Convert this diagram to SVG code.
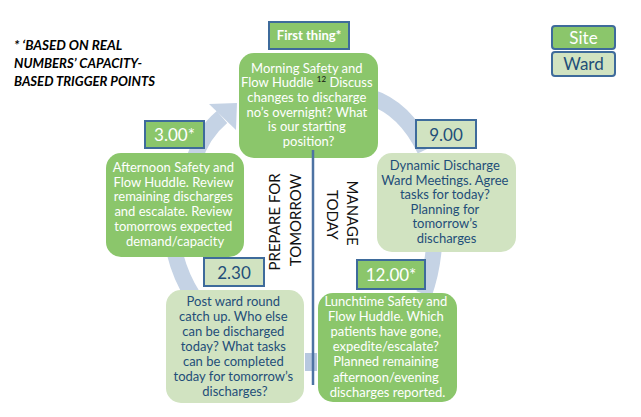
<svg xmlns="http://www.w3.org/2000/svg" width="641" height="417" viewBox="0 0 641 417">
<style>
.ring{fill:none;stroke:#c5d3e5;stroke-width:16}
.ringf{fill:#c5d3e5}
.g{fill:#8bc66b}
.lg{fill:#d1e3c1}
.tag{stroke:#3e6b9b;stroke-width:2}
.t{font-family:Lato,"Liberation Sans",sans-serif;font-size:13px;text-anchor:middle}
.w{fill:#ffffff}
.b{fill:#1f4e79}
.big{font-family:Lato,"Liberation Sans",sans-serif;font-size:17px;text-anchor:middle}
.vt{font-family:Lato,"Liberation Sans",sans-serif;font-size:15px;text-anchor:middle;fill:#111}
.note{font-family:Lato,"Liberation Sans",sans-serif;font-size:13px;font-weight:bold;font-style:italic;fill:#000}
</style>
<rect width="641" height="417" fill="#ffffff"/>
<g id="ring">
<path class="ring" d="M194,160 Q202,134 222,117"/>
<polygon class="ringf" points="209,104 237,103 236,130"/>
<path class="ring" d="M370,97 Q405,108 425,150"/>
<path class="ring" d="M434,246 Q432,272 424,294"/>
<rect x="305" y="353" width="12" height="18" fill="#b7c8df"/>
<path class="ring" d="M174,250 Q180,276 193,296"/>
</g>
<g id="note">
<text class="note">
<tspan x="14" y="50" textLength="108" lengthAdjust="spacingAndGlyphs">* ‘BASED ON REAL</tspan>
<tspan x="14" y="68" textLength="128" lengthAdjust="spacingAndGlyphs">NUMBERS’ CAPACITY-</tspan>
<tspan x="14" y="86" textLength="141" lengthAdjust="spacingAndGlyphs">BASED TRIGGER POINTS</tspan>
</text>
</g>
<g id="legend-site">
<rect class="g tag" x="552" y="26" width="63" height="23" rx="3"/>
<text class="big w" x="583.5" y="44">Site</text>
</g>
<g id="legend-ward">
<rect class="lg tag" x="552" y="52" width="63" height="24" rx="3"/>
<text class="big b" x="583.5" y="70">Ward</text>
</g>
<g id="first-thing">
<rect class="g tag" x="269" y="22" width="80" height="27"/>
<text class="t w" x="309" y="40" font-weight="bold">First thing*</text>
</g>
<g id="morning">
<rect class="g" x="239" y="53" width="139" height="105" rx="15"/>
<text class="t w">
<tspan x="308.5" y="72.5">Morning Safety and</tspan>
<tspan x="308.5" y="87.2">Flow Huddle <tspan font-size="8" fill="#111" dy="-5">12</tspan><tspan dy="5"> Discuss</tspan></tspan>
<tspan x="308.5" y="101.9">changes to discharge</tspan>
<tspan x="308.5" y="116.6">no’s overnight? What</tspan>
<tspan x="308.5" y="131.3">is our starting</tspan>
<tspan x="308.5" y="146">position?</tspan>
</text>
</g>
<g id="t900">
<rect class="lg tag" x="416" y="120" width="60" height="28"/>
<text class="big b" x="446" y="141">9.00</text>
</g>
<g id="dynamic">
<rect class="lg" x="377" y="153" width="139" height="99" rx="15"/>
<text class="t b">
<tspan x="446.5" y="170">Dynamic Discharge</tspan>
<tspan x="446.5" y="184.5">Ward Meetings. Agree</tspan>
<tspan x="446.5" y="199">tasks for today?</tspan>
<tspan x="446.5" y="213.5">Planning for</tspan>
<tspan x="446.5" y="228">tomorrow’s</tspan>
<tspan x="446.5" y="242.5">discharges</tspan>
</text>
</g>
<g id="t1200">
<rect class="g tag" x="357" y="260" width="68" height="29"/>
<text class="big w" x="391" y="281">12.00*</text>
</g>
<g id="lunchtime">
<rect class="g" x="318" y="293" width="139" height="109" rx="15"/>
<text class="t w">
<tspan x="387.5" y="306">Lunchtime Safety and</tspan>
<tspan x="387.5" y="321.1">Flow Huddle. Which</tspan>
<tspan x="387.5" y="336.2">patients have gone,</tspan>
<tspan x="387.5" y="351.3">expedite/escalate?</tspan>
<tspan x="387.5" y="366.4">Planned remaining</tspan>
<tspan x="387.5" y="381.5">afternoon/evening</tspan>
<tspan x="387.5" y="396.6">discharges reported.</tspan>
</text>
</g>
<g id="t230">
<rect class="lg tag" x="204" y="258" width="60" height="28"/>
<text class="big b" x="234" y="279">2.30</text>
</g>
<g id="postward">
<rect class="lg" x="166" y="290" width="138" height="113" rx="15"/>
<text class="t b">
<tspan x="235" y="305.7">Post ward round</tspan>
<tspan x="235" y="320.8">catch up. Who else</tspan>
<tspan x="235" y="335.9">can be discharged</tspan>
<tspan x="235" y="351">today? What tasks</tspan>
<tspan x="235" y="366.1">can be completed</tspan>
<tspan x="235" y="381.2">today for tomorrow’s</tspan>
<tspan x="235" y="396.3">discharges?</tspan>
</text>
</g>
<g id="t300">
<rect class="g tag" x="145" y="121" width="59" height="27"/>
<text class="big w" x="174.5" y="141">3.00*</text>
</g>
<g id="afternoon">
<rect class="g" x="106" y="153" width="138" height="104" rx="15"/>
<text class="t w">
<tspan x="175" y="171.7">Afternoon Safety and</tspan>
<tspan x="175" y="186.6">Flow Huddle. Review</tspan>
<tspan x="175" y="201.4">remaining discharges</tspan>
<tspan x="175" y="216.3">and escalate. Review</tspan>
<tspan x="175" y="231.1">tomorrows expected</tspan>
<tspan x="175" y="246">demand/capacity</tspan>
</text>
</g>
<g id="connectors">
<line x1="313" y1="150" x2="313" y2="385" stroke="#4d73a3" stroke-width="2.5"/>
</g>
<g id="labels">
<text class="vt" transform="translate(347,215) rotate(90)">
<tspan x="0" y="0">MANAGE</tspan>
<tspan x="0" y="20">TODAY</tspan>
</text>
<text class="vt" transform="translate(280,220) rotate(-90)">
<tspan x="0" y="0">PREPARE FOR</tspan>
<tspan x="0" y="21">TOMORROW</tspan>
</text>
</g>
</svg>
